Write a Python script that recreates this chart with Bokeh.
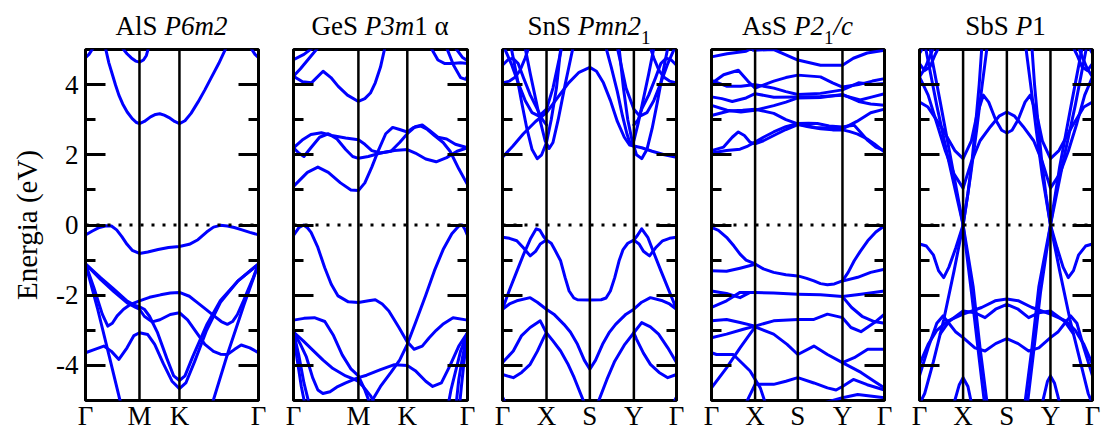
from bokeh.plotting import figure
from bokeh.models import Range1d, LinearAxis, FixedTicker, Span, Div
from bokeh.layouts import row, column
from bokeh.embed import file_html
from bokeh.resources import INLINE

# ---------------- data ----------------
ALS_K = [0.0, 0.312, 0.543, 1.0]
ALS_KLABELS = ["Γ", "M", "K", "Γ"]
ALS_BANDS = [
    ([0.116,0.135,0.154,0.174,0.193,0.215,0.241,0.27,0.295,0.312,0.34,0.376,0.405,0.429,0.455,0.483,0.515,0.543,0.575,0.61,0.65,0.69,0.724,0.77,0.811],
     [5.03,4.62,4.31,3.98,3.70,3.45,3.22,3.03,2.92,2.89,2.95,3.08,3.15,3.17,3.13,3.06,2.95,2.89,2.97,3.18,3.5,3.85,4.17,4.6,5.03]),
    ([0.212,0.24,0.265,0.29,0.312,0.335,0.352,0.364], [5.05,4.88,4.76,4.67,4.64,4.7,4.83,5.05]),
    ([0.0,0.02,0.045], [4.77,4.86,5.05]),
    ([0.955,0.98,1.0], [5.05,4.86,4.77]),
    ([0,0.04,0.08,0.12,0.15,0.18,0.21,0.24,0.27,0.312,0.36,0.42,0.48,0.543,0.6,0.65,0.7,0.74,0.78,0.82,0.86,0.9,0.95,1],
     [-0.28,-0.17,-0.07,-0.02,-0.03,-0.14,-0.33,-0.55,-0.72,-0.81,-0.77,-0.7,-0.64,-0.61,-0.55,-0.42,-0.2,-0.06,-0.01,-0.03,-0.07,-0.13,-0.21,-0.28]),
    ([0,0.048,0.097,0.129,0.155,0.183,0.22,0.261,0.312,0.37,0.434,0.49,0.543,0.6,0.647,0.7,0.743,0.785,0.82,0.85,0.878,0.91,0.936,0.97,1],
     [-1.11,-1.78,-2.54,-2.88,-2.8,-2.59,-2.4,-2.26,-2.16,-2.06,-1.99,-1.94,-1.92,-2.03,-2.21,-2.42,-2.59,-2.75,-2.83,-2.75,-2.55,-2.2,-1.89,-1.5,-1.11]),
    ([0,0.087,0.164,0.241,0.29,0.312,0.34,0.37,0.415,0.47,0.51,0.543,0.575,0.62,0.7,0.78,0.88,1],
     [-1.11,-1.5,-1.83,-2.17,-2.3,-2.33,-2.4,-2.6,-3.05,-3.8,-4.3,-4.43,-4.3,-3.75,-2.85,-2.15,-1.6,-1.11]),
    ([0,0.087,0.164,0.241,0.29,0.312,0.34,0.385,0.43,0.49,0.543,0.59,0.64,0.69,0.74,0.78,0.82,0.86,0.9,0.95,1],
     [-1.11,-1.55,-1.9,-2.22,-2.35,-2.4,-2.6,-2.76,-2.7,-2.55,-2.5,-2.7,-3.05,-3.4,-3.6,-3.68,-3.69,-3.55,-3.42,-3.5,-3.64]),
    ([0,0.05,0.106,0.15,0.193,0.24,0.28,0.312,0.36,0.4,0.45,0.5,0.543,0.58,0.63,0.7,0.78,0.88,1],
     [-3.64,-3.55,-3.45,-3.6,-3.83,-3.5,-3.15,-3.07,-3.12,-3.4,-3.95,-4.45,-4.66,-4.5,-3.9,-3.0,-2.2,-1.6,-1.11]),
    ([0,0.068,0.135,0.203], [-1.11,-2.35,-3.69,-5.07]),
    ([0.734,0.82,0.917,1], [-5.07,-3.69,-2.26,-1.11]),
]

GES_K = [0.0, 0.373, 0.654, 1.0]
GES_KLABELS = ["Γ", "M", "K", "Γ"]
GES_BANDS = [
    ([0,0.052,0.103,0.17,0.215,0.257,0.31,0.373,0.41,0.442,0.47,0.5,0.525],
     [4.24,4.08,4.05,4.38,4.2,3.95,3.7,3.52,3.6,3.76,4.05,4.5,5.05]),
    ([0,0.04,0.09,0.14], [4.24,4.45,4.75,5.05]),
    ([0,0.06,0.11], [4.71,4.86,5.05]),
    ([0.79,0.83,0.87,0.91,0.96,1], [5.05,4.7,4.6,4.6,4.62,4.6]),
    ([0.88,0.92,0.96,0.99,1], [5.05,4.55,4.2,4.15,4.24]),
    ([0.93,0.97,1], [5.05,4.78,4.68]),
    ([0,0.04,0.08,0.14,0.2,0.27,0.33,0.373,0.41,0.45,0.49,0.53,0.57,0.61,0.654,0.69,0.73,0.77,0.81,0.86,0.9,0.95,1],
     [1.1,1.3,1.5,1.65,1.5,1.2,1.0,0.98,1.2,1.65,2.15,2.6,2.78,2.72,2.65,2.78,2.82,2.72,2.55,2.35,2.1,1.6,1.15]),
    ([0,0.03,0.06,0.1,0.15,0.2,0.25,0.3,0.34,0.373,0.43,0.5,0.58,0.654,0.7,0.76,0.82,0.88,0.94,1],
     [2.2,2.05,1.95,2.2,2.5,2.6,2.45,2.15,1.95,1.9,1.95,2.05,2.12,2.15,2.05,1.88,1.8,1.92,2.1,2.2]),
    ([0,0.05,0.1,0.16,0.22,0.3,0.373,0.41,0.45,0.5,0.56,0.61,0.654,0.7,0.74,0.78,0.83,0.88,0.93,1],
     [2.2,2.42,2.58,2.63,2.55,2.48,2.43,2.3,2.12,2.05,2.1,2.35,2.6,2.8,2.85,2.7,2.5,2.45,2.3,2.2]),
    ([0,0.03,0.058,0.08,0.101,0.14,0.179,0.217,0.256,0.315,0.373,0.431,0.47,0.51,0.548,0.606,0.654,0.693,0.74,0.78,0.82,0.858,0.917,1],
     [-0.3,-0.08,0,-0.08,-0.21,-0.64,-1.21,-1.69,-2.02,-2.19,-2.21,-2.16,-2.13,-2.25,-2.45,-2.92,-3.33,-3.54,-3.45,-3.21,-3.0,-2.83,-2.64,-2.71]),
    ([0,0.06,0.12,0.18,0.23,0.28,0.33,0.373,0.41,0.44], [-2.71,-2.66,-2.64,-2.75,-3.15,-3.7,-4.1,-4.3,-4.7,-5.1]),
    ([0.44,0.5,0.56,0.61,0.654,0.7,0.76,0.81,0.86,0.91,0.95,0.97,0.985,1],
     [-5.1,-4.6,-4.2,-3.85,-3.4,-2.8,-2.0,-1.3,-0.7,-0.25,-0.03,0,-0.12,-0.3]),
    ([0,0.056,0.112,0.17,0.227,0.3,0.365,0.4,0.442,0.47], [-3.05,-3.3,-3.57,-3.85,-4.09,-4.3,-4.43,-4.6,-4.86,-5.1]),
    ([0,0.04,0.074,0.11,0.14,0.169,0.21,0.248,0.3,0.373,0.42,0.5,0.58,0.654,0.7,0.76,0.8,0.85,0.9,0.95,1],
     [-3.05,-3.4,-3.76,-4.35,-4.7,-4.8,-4.75,-4.62,-4.5,-4.35,-4.28,-4.12,-3.98,-4.0,-4.15,-4.45,-4.6,-4.5,-4.0,-3.45,-3.07]),
    ([1,0.96,0.93,0.905,0.89], [-3.07,-3.6,-4.2,-4.7,-5.1]),
    ([1,0.97,0.95,0.935], [-3.07,-3.8,-4.4,-5.1]),
    ([1,0.98,0.965,0.955], [-3.07,-3.9,-4.6,-5.1]),
    ([0,0.03,0.06,0.09], [-3.05,-3.7,-4.5,-5.1]),
    ([0,0.02,0.045,0.065], [-3.05,-3.8,-4.6,-5.1]),
]

SNS_K = [0.0, 0.253, 0.502, 0.755, 1.0]
SNS_KLABELS = ["Γ", "X", "S", "Y", "Γ"]
SNS_BANDS = [
    ([0,0.06,0.12,0.19,0.253,0.32,0.38,0.44,0.502,0.54,0.58,0.62,0.66,0.7,0.73,0.755,0.8,0.86,0.93,1],
     [1.93,2.25,2.6,2.95,3.2,3.65,4.05,4.35,4.49,4.38,4.05,3.55,2.95,2.5,2.28,2.25,2.2,2.1,2.0,1.93]),
    ([0.05,0.08,0.11,0.14,0.17,0.2,0.225,0.253,0.28,0.31,0.335], [5.05,4.3,3.5,2.75,2.15,1.89,2.0,2.35,3.0,3.9,5.05]),
    ([0.13,0.16,0.19,0.22,0.245,0.268,0.29,0.32,0.36,0.39,0.405], [5.05,4.3,3.6,2.9,2.4,2.18,2.35,3.0,4.0,4.7,5.05]),
    ([0,0.04,0.07,0.1,0.13,0.15], [4.05,4.1,4.2,4.4,4.75,5.05]),
    ([0,0.03,0.06,0.09,0.12,0.16,0.2,0.23,0.253], [4.55,4.7,4.75,4.6,4.2,3.7,3.3,3.0,2.85]),
    ([0.01,0.05,0.09,0.13,0.17,0.21,0.253,0.29,0.32,0.34], [5.05,4.6,4.05,3.55,3.2,3.1,3.3,3.9,4.6,5.05]),
    ([0.67,0.695,0.72,0.745,0.77,0.8,0.83,0.86,0.89,0.92,0.95], [5.05,3.9,3.0,2.4,2.0,1.89,2.15,2.75,3.5,4.3,5.05]),
    ([0.595,0.625,0.66,0.69,0.715,0.735,0.755,0.78,0.81,0.84,0.87], [5.05,4.5,3.8,3.1,2.6,2.3,2.4,2.9,3.6,4.3,5.05]),
    ([0.85,0.87,0.9,0.93,0.96,1], [5.05,4.75,4.4,4.2,4.1,4.05]),
    ([0.755,0.78,0.8,0.84,0.88,0.91,0.94,0.97,1], [2.85,3.0,3.3,3.7,4.2,4.6,4.75,4.7,4.55]),
    ([0.66,0.68,0.71,0.755,0.79,0.83,0.87,0.91,0.95,0.99], [5.05,4.6,3.9,3.3,3.1,3.2,3.55,4.05,4.6,5.05]),
    ([0,0.04,0.082,0.12,0.159,0.19,0.217,0.252,0.28,0.3,0.334,0.36,0.383,0.41,0.431,0.5,0.567,0.595,0.62,0.645,0.67,0.693,0.72,0.755,0.785,0.81,0.845,0.88,0.92,0.96,1],
     [-0.35,-0.38,-0.45,-0.65,-0.88,-0.75,-0.54,-0.43,-0.52,-0.7,-1.02,-1.5,-1.88,-2.08,-2.13,-2.14,-2.13,-2.08,-1.88,-1.5,-1.02,-0.7,-0.52,-0.43,-0.54,-0.75,-0.88,-0.65,-0.45,-0.38,-0.35]),
    ([0,0.04,0.08,0.12,0.16,0.194,0.215,0.235,0.252], [-2.4,-1.85,-1.35,-0.85,-0.4,-0.11,-0.15,-0.32,-0.43]),
    ([0.755,0.775,0.8,0.835,0.87,0.91,0.955,1], [-0.43,-0.3,-0.11,-0.35,-0.8,-1.3,-1.85,-2.4]),
    ([0,0.04,0.082,0.159,0.2,0.252,0.295,0.353,0.39,0.431,0.47,0.502,0.535,0.575,0.615,0.65,0.71,0.755,0.8,0.85,0.92,0.96,1],
     [-2.4,-2.25,-2.16,-2.07,-2.2,-2.4,-2.54,-2.83,-3.05,-3.4,-3.85,-4.11,-3.85,-3.4,-3.05,-2.83,-2.54,-2.4,-2.2,-2.07,-2.16,-2.25,-2.4]),
    ([0,0.062,0.11,0.159,0.217,0.252,0.29,0.334,0.375,0.412,0.47], [-3.92,-3.59,-3.15,-2.92,-2.73,-3.07,-3.3,-3.59,-3.95,-4.35,-5.07]),
    ([0.548,0.6,0.645,0.703,0.755,0.8,0.85,0.897,0.95,1], [-5.07,-4.4,-3.88,-3.4,-3.07,-2.78,-2.9,-3.11,-3.5,-3.92]),
    ([0,0.062,0.11,0.159,0.2,0.237,0.252], [-4.26,-4.35,-4.2,-3.97,-3.6,-3.21,-3.07]),
    ([0.755,0.77,0.81,0.85,0.9,0.95,1], [-3.07,-3.25,-3.65,-3.97,-4.2,-4.35,-4.26]),
    ([0,0.02], [-4.9,-5.1]),
    ([0.98,1], [-5.1,-4.9]),
]

ASS_K = [0.0, 0.252, 0.499, 0.757, 1.0]
ASS_KLABELS = ["Γ", "X", "S", "Y", "Γ"]
ASS_BANDS = [
    ([0,0.07,0.12,0.155,0.19,0.223,0.252,0.3,0.36,0.43,0.499,0.56,0.63,0.7,0.757,0.8,0.845,0.9,0.942,1],
     [2.12,2.22,2.5,2.65,2.55,2.36,2.31,2.4,2.55,2.72,2.86,2.8,2.74,2.71,2.71,2.66,2.59,2.45,2.31,2.08]),
    ([0,0.087,0.165,0.21,0.252,0.3,0.359,0.43,0.499,0.56,0.612,0.68,0.757,0.79,0.825,0.86,0.903,0.95,1],
     [2.05,2.12,2.16,2.25,2.36,2.5,2.65,2.8,2.89,2.9,2.89,2.82,2.79,2.82,2.84,2.65,2.41,2.22,2.12]),
    ([0,0.1,0.18,0.252,0.36,0.43,0.499,0.6,0.757,0.84,0.92,1], [3.12,3.25,3.27,3.3,3.18,3.0,2.88,2.78,2.74,2.95,3.2,3.3]),
    ([0,0.09,0.17,0.252,0.36,0.43,0.499,0.63,0.757,0.85,0.92,1], [3.41,3.27,3.22,3.27,3.4,3.5,3.62,3.63,3.72,3.52,3.45,3.41]),
    ([0,0.06,0.12,0.2,0.252,0.36,0.499,0.63,0.757,0.86,0.93,1], [3.65,3.6,3.52,3.62,3.74,3.64,3.65,3.66,3.7,3.56,3.65,3.74]),
    ([0,0.07,0.155,0.21,0.252,0.36,0.43,0.499,0.63,0.7,0.757,0.85,0.93,1], [4.03,4.28,4.41,4.1,3.9,4.1,4.2,4.27,4.22,4.05,3.93,4.0,4.1,4.17]),
    ([0,0.09,0.17,0.252,0.36,0.43,0.499,0.63,0.757,0.85,0.93,1], [4.12,3.95,3.95,4.0,3.9,3.8,3.72,3.75,3.85,4.05,4.0,4.03]),
    ([0,0.09,0.2,0.24], [4.79,4.88,4.95,5.05]),
    ([0.24,0.36,0.43,0.499,0.63,0.757,0.82,0.9,1], [4.98,5.0,4.85,4.7,4.55,4.55,4.75,4.9,4.98]),
    ([0,0.04,0.087,0.13,0.165,0.2,0.252,0.3,0.359,0.43,0.499,0.55,0.592,0.63,0.67,0.71,0.757,0.79,0.825,0.86,0.903,0.95,1],
     [-0.07,-0.15,-0.35,-0.6,-0.83,-1.0,-1.11,-1.25,-1.35,-1.42,-1.45,-1.52,-1.59,-1.67,-1.7,-1.68,-1.59,-1.35,-1.02,-0.75,-0.45,-0.2,-0.02]),
    ([0,0.087,0.165,0.252], [-1.3,-1.32,-1.23,-1.12]),
    ([0.757,0.845,0.92,1], [-1.6,-1.49,-1.35,-1.26]),
    ([0,0.087,0.165,0.223,0.252,0.359,0.499,0.63,0.757,0.864,1], [-1.88,-1.95,-2.07,-1.92,-1.92,-1.94,-1.97,-1.99,-2.04,-1.97,-1.88]),
    ([0,0.087,0.165,0.252], [-2.35,-2.16,-1.92,-1.92]),
    ([0.757,0.81,0.87,0.94,1], [-2.04,-2.35,-2.6,-2.75,-2.8]),
    ([0,0.087,0.165,0.252,0.359,0.499,0.592,0.67,0.757,0.806,0.864,0.942,1],
     [-2.73,-2.69,-2.78,-2.88,-2.73,-2.69,-2.69,-2.54,-2.64,-2.92,-3.04,-2.78,-2.54]),
    ([0,0.087,0.184,0.252], [-3.21,-3.11,-2.97,-2.88]),
    ([0.252,0.359,0.437,0.499,0.592,0.67,0.757,0.825,0.903,1], [-2.9,-3.11,-3.4,-3.69,-3.45,-3.69,-3.92,-3.78,-3.54,-3.54]),
    ([0,0.087,0.165,0.252], [-4.64,-4.07,-3.5,-2.9]),
    ([0,0.029,0.126,0.223,0.282,0.311], [-3.64,-3.69,-3.69,-4.16,-4.64,-5.07]),
    ([0.2,0.252,0.359,0.43,0.499,0.592,0.67,0.72,0.757,0.82,0.9,1], [-5.07,-4.54,-4.54,-4.45,-4.35,-4.5,-4.64,-4.7,-4.6,-4.4,-4.55,-4.7]),
    ([0.65,0.757,0.845,1], [-5.07,-4.92,-4.83,-4.92]),
    ([0.757,0.864,0.94,1], [-3.92,-4.2,-4.45,-4.64]),
]

SBS_K = [0.0, 0.252, 0.505, 0.757, 1.0]
SBS_KLABELS = ["Γ", "X", "S", "Y", "Γ"]
SBS_BANDS = [
    ([0.035,0.1,0.17,0.252,0.3,0.34,0.375], [5.05,3.4,1.8,0,-1.9,-3.6,-5.05]),
    ([0.06,0.12,0.19,0.252,0.31,0.35,0.39], [5.05,3.5,1.65,0,-1.75,-3.5,-5.05]),
    ([0.39,0.36,0.33,0.295,0.252,0.2,0.14,0.08,0.03,0.0], [5.05,3.9,2.7,1.4,0,-1.3,-2.7,-3.9,-4.8,-5.1]),
    ([0,0.04,0.08,0.11,0.14,0.17,0.21,0.252,0.28,0.305,0.325,0.345,0.36], [-0.54,-0.6,-0.85,-1.3,-1.5,-1.2,-0.65,0,0.9,1.9,2.9,4.0,5.05]),
    ([0,0.049,0.126,0.204,0.252,0.3,0.33,0.369,0.4,0.44,0.475,0.505,0.535,0.57,0.61,0.64,0.68,0.71,0.757,0.806,0.88,0.95,1],
     [3.5,3.36,2.79,2.12,1.89,2.4,3.1,3.7,3.5,3.0,2.7,2.62,2.7,3.0,3.5,3.7,3.1,2.4,1.89,2.12,2.79,3.36,3.5]),
    ([0,0.05,0.1,0.15,0.2,0.252,0.3,0.35,0.41,0.46,0.505,0.55,0.6,0.66,0.71,0.757,0.81,0.86,0.91,0.955,1],
     [4.22,3.7,2.9,2.1,1.45,1.05,1.8,2.4,2.8,3.1,3.22,3.1,2.8,2.4,1.8,1.05,1.45,2.1,2.9,3.7,4.22]),
    ([0,0.03,0.06,0.09,0.11], [4.6,4.4,4.5,4.85,5.05]),
    ([0,0.03,0.06,0.08], [4.22,4.45,4.8,5.05]),
    ([0,0.02], [4.89,5.05]),
    ([1,0.97,0.94,0.91,0.89], [4.6,4.4,4.5,4.85,5.05]),
    ([1,0.97,0.94,0.92], [4.22,4.45,4.8,5.05]),
    ([1,0.98], [4.89,5.05]),
    ([0.965,0.9,0.83,0.757,0.7,0.66,0.625], [5.05,3.4,1.8,0,-1.9,-3.6,-5.05]),
    ([0.94,0.88,0.81,0.757,0.69,0.65,0.61], [5.05,3.5,1.65,0,-1.75,-3.5,-5.05]),
    ([0.615,0.645,0.675,0.71,0.757,0.81,0.87,0.93,0.975,1], [5.05,3.9,2.7,1.4,0,-1.3,-2.7,-3.9,-4.8,-5.1]),
    ([1,0.96,0.92,0.89,0.86,0.83,0.795,0.757,0.73,0.705,0.685,0.665,0.65], [-0.54,-0.6,-0.85,-1.3,-1.5,-1.2,-0.65,0,0.9,1.9,2.9,4.0,5.05]),
    ([0,0.05,0.1,0.165,0.252,0.359,0.437,0.505,0.573,0.65,0.757,0.845,0.9,0.95,1],
     [-3.97,-3.4,-3.0,-2.73,-2.54,-2.35,-2.16,-2.11,-2.16,-2.35,-2.54,-2.73,-3.0,-3.4,-3.97]),
    ([0.12,0.17,0.252,0.32,0.379,0.44,0.505,0.57,0.631,0.69,0.757,0.84,0.89],
     [-3.1,-2.75,-2.45,-2.5,-2.64,-2.4,-2.26,-2.4,-2.64,-2.5,-2.45,-2.75,-3.1]),
    ([0,0.05,0.1,0.136,0.17,0.21,0.252,0.32,0.379,0.44,0.505,0.57,0.631,0.69,0.757,0.8,0.84,0.874,0.91,0.95,1],
     [-4.3,-3.5,-2.8,-2.59,-2.8,-3.05,-3.21,-3.5,-3.59,-3.38,-3.24,-3.38,-3.59,-3.5,-3.21,-3.05,-2.8,-2.59,-2.8,-3.5,-4.3]),
    ([0.2,0.23,0.252,0.28,0.3], [-5.07,-4.55,-4.35,-4.6,-5.07]),
    ([0.71,0.74,0.757,0.78,0.81], [-5.07,-4.45,-4.3,-4.5,-5.07]),
]

TITLES = [
    'AlS <i>P6m2</i>',
    'GeS <i>P3m</i>1 α',
    'SnS <i>Pmn2</i><span style="font-size:19px;position:relative;top:9px">1</span>',
    'AsS <i>P2</i><span style="font-size:19px;position:relative;top:9px">1</span><i>/c</i>',
    'SbS <i>P</i>1',
]

Y_TICKS = [-4, -2, 0, 2, 4]
Y_MINOR = [-3, -1, 1, 3]
Y_TICK_TEXT = {-4: "-4", -2: "-2", 0: "0", 2: "2", 4: "4"}
Y_LABEL = "Energia (eV)"

# ---------------- style ----------------
FONT = "Liberation Serif"
BLUE = "#0000ff"
TOP_H = 44


def tick_axis(ticks, length, show_line):
    return LinearAxis(ticker=FixedTicker(ticks=[], minor_ticks=ticks),
                      major_tick_in=0, major_tick_out=0, minor_tick_in=length, minor_tick_out=0,
                      minor_tick_line_width=3, minor_tick_line_color="black",
                      axis_line_width=3, axis_line_color=("black" if show_line else None))


def make_panel(K, KL, bands, title, bl, br, fw, first):
    p = figure(frame_width=fw, frame_height=351, x_range=Range1d(0, 1), y_range=Range1d(-5, 5),
               output_backend="svg", toolbar_location=None, tools="",
               x_axis_location=None, y_axis_location=None,
               min_border_left=bl, min_border_right=br, min_border_top=49 - TOP_H, min_border_bottom=30,
               background_fill_color="white", border_fill_color="white", margin=0)
    p.outline_line_color = "black"
    p.outline_line_width = 3
    for g in p.grid:
        g.visible = False

    p.multi_line(xs=[list(b[0]) for b in bands], ys=[list(b[1]) for b in bands],
                 line_color=BLUE, line_width=3, line_join="round", line_cap="round")

    for k in K[1:-1]:
        p.add_layout(Span(location=k, dimension="height", line_color="black", line_width=2.5))
    p.add_layout(Span(location=0, dimension="width", line_color="black", line_width=3, line_dash="3 8"))

    if first:
        ax = LinearAxis(ticker=FixedTicker(ticks=Y_TICKS, minor_ticks=Y_MINOR),
                        major_tick_in=20, major_tick_out=0, minor_tick_in=10, minor_tick_out=0,
                        major_tick_line_width=3, minor_tick_line_width=3, axis_line_width=3,
                        major_label_overrides=Y_TICK_TEXT,
                        major_label_text_font=FONT, major_label_text_font_size="27px",
                        major_label_text_color="black", major_label_standoff=7,
                        axis_label=Y_LABEL, axis_label_text_font=FONT, axis_label_text_font_size="29px",
                        axis_label_text_font_style="normal", axis_label_text_color="black",
                        axis_label_standoff=10)
        p.add_layout(ax, "left")
    else:
        p.add_layout(tick_axis(Y_TICKS, 20, True), "left")
        p.add_layout(tick_axis(Y_MINOR, 10, False), "left")
    p.add_layout(tick_axis(Y_TICKS, 20, True), "right")
    p.add_layout(tick_axis(Y_MINOR, 10, False), "right")

    kax = LinearAxis(ticker=FixedTicker(ticks=K), major_label_overrides=dict(zip(K, KL)),
                     major_tick_in=0, major_tick_out=0, minor_tick_in=0, minor_tick_out=0,
                     axis_line_color=None, major_label_standoff=0,
                     major_label_text_font=FONT, major_label_text_font_size="27px",
                     major_label_text_color="black")
    p.add_layout(kax, "below")

    W = bl + fw + br
    html = (f'<div style="box-sizing:border-box;width:{W}px;height:{TOP_H}px;margin:0;'
            f'padding:11px {br}px 0px {bl}px;text-align:center;font-family:\'{FONT}\';'
            f'font-size:27px;line-height:30px;white-space:nowrap;color:black;overflow:visible">{title}</div>')
    d = Div(text=html, width=W, height=TOP_H, margin=0)
    return column(d, p, spacing=0, margin=0)


panels = [
    make_panel(ALS_K, ALS_KLABELS, ALS_BANDS, TITLES[0], 85, 17, 173, True),
    make_panel(GES_K, GES_KLABELS, GES_BANDS, TITLES[1], 18, 17, 174, False),
    make_panel(SNS_K, SNS_KLABELS, SNS_BANDS, TITLES[2], 18, 17, 174, False),
    make_panel(ASS_K, ASS_KLABELS, ASS_BANDS, TITLES[3], 18, 17, 173, False),
    make_panel(SBS_K, SBS_KLABELS, SBS_BANDS, TITLES[4], 18, 10, 173, False),
]

layout = row(*panels, spacing=0, margin=0)
open("out.html", "w").write(file_html(layout, INLINE))
